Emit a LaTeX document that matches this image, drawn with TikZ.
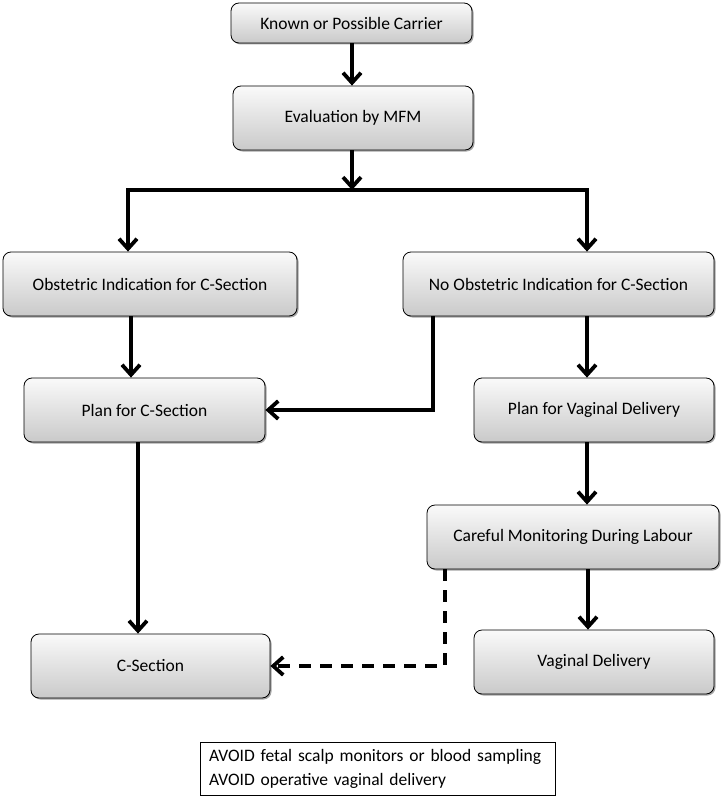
\documentclass[tikz,border=0pt]{standalone}
\usepackage{fontspec}
\setmainfont{Carlito}
\usetikzlibrary{arrows.meta,shadows}
\begin{document}
\begin{tikzpicture}[x=1pt,y=-1pt,
  box/.style={draw=black, line width=0.8pt, rounded corners=8pt,
    top color=gray!4, bottom color=gray!42,
    drop shadow={shadow xshift=1.5pt, shadow yshift=-1.5pt, opacity=0.5, fill=black!70},
    align=center, font=\fontsize{17.5}{20}\selectfont, inner sep=0pt},
  arr/.style={line width=3.8pt, -{Straight Barb[length=10pt,width=18pt]}},
  dasharr/.style={arr, dash pattern=on 12pt off 9pt},
  plain/.style={line width=3.8pt},
  notebox/.style={draw=black, line width=0.8pt, align=left, inner sep=0pt,
    font=\fontsize{17.5}{24}\selectfont}]
\useasboundingbox[fill=white] (0,0) rectangle (720,797);
% boxes
\node[box, minimum width=241pt, minimum height=40pt] (b1) at (351.5,23) {Known or Possible Carrier};
\node[box, minimum width=240pt, minimum height=64pt] (b2) at (353,118) {Evaluation by MFM};
\node[box, minimum width=294pt, minimum height=64pt] (b3) at (150,284) {Obstetric Indication for C-Section};
\node[box, minimum width=311pt, minimum height=64pt] (b4) at (558.5,284) {No Obstetric Indication for C-Section};
\node[box, minimum width=241pt, minimum height=64pt] (b5) at (144.5,410) {Plan for C-Section};
\node[box, minimum width=240pt, minimum height=64pt] (b6) at (594,410) {Plan for Vaginal Delivery};
\node[box, minimum width=292pt, minimum height=64pt] (b7) at (573,537) {Careful Monitoring During Labour};
\node[box, minimum width=239pt, minimum height=64pt] (b8) at (150.5,666) {C-Section};
\node[box, minimum width=240pt, minimum height=64pt] (b9) at (594,662) {Vaginal Delivery};
\node[notebox, minimum width=355pt, minimum height=53pt, text width=337pt] (note) at (377.5,768.5)
  {\raggedright AVOID fetal scalp monitors or blood sampling\\AVOID operative vaginal delivery};
% junction coordinates
\coordinate (jm) at (352,190);
\coordinate (jl) at (128,190);
\coordinate (jr) at (587,190);
\coordinate (x131) at (131,0);
\coordinate (x138) at (138,0);
\coordinate (x433) at (433,0);
\coordinate (x445) at (445,0);
\coordinate (x588) at (588,0);
% connectors
\draw[arr] (b1.south -| jm) -- (b2.north -| jm);
\draw[arr] (b2.south -| jm) -- (jm);
\draw[plain, line cap=rect] (jl) -- (jr);
\draw[arr] (jl) -- (b3.north -| jl);
\draw[arr] (jr) -- (b4.north -| jr);
\draw[arr] (b3.south -| x131) -- (b5.north -| x131);
\draw[arr] (b4.south -| x433) |- (b5.east);
\draw[arr] (b4.south -| jr) -- (b6.north -| jr);
\draw[arr] (b6.south -| jr) -- (b7.north -| jr);
\draw[arr] (b5.south -| x138) -- (b8.north -| x138);
\draw[dasharr] (b7.south -| x445) |- (b8.east);
\draw[arr] (b7.south -| x588) -- (b9.north -| x588);
\end{tikzpicture}
\end{document}
